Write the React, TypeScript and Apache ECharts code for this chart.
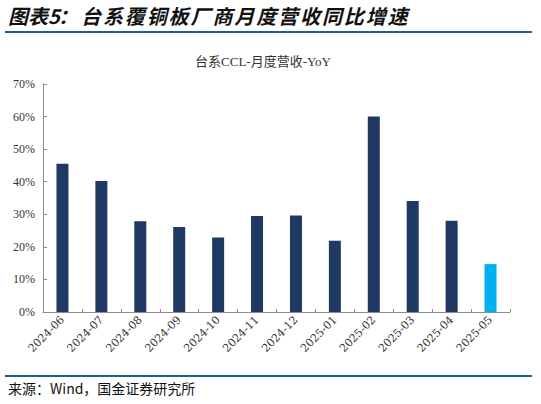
import React, { useEffect, useRef } from "react";
import * as echarts from "echarts";

const categories = [
  "2024-06", "2024-07", "2024-08", "2024-09", "2024-10", "2024-11",
  "2024-12", "2025-01", "2025-02", "2025-03", "2025-04", "2025-05",
];
const yoyValues = [0.455, 0.402, 0.279, 0.261, 0.229, 0.295, 0.296, 0.219, 0.600, 0.341, 0.280, 0.147];
const barColors = ["#1F3864", "#1F3864", "#1F3864", "#1F3864", "#1F3864", "#1F3864", "#1F3864", "#1F3864", "#1F3864", "#1F3864", "#1F3864", "#00B0F0"];
const headlinePrefix = "图表5";
const headlineColon = "：";
const headlineBody = "台系覆铜板厂商月度营收同比增速";
const chartTitle = "台系CCL-月度营收-YoY";
const sourceNote = "来源：Wind，国金证券研究所";

export default function App() {
  const ref = useRef<HTMLDivElement>(null);
  useEffect(() => {
    if (!ref.current) return;
    const chart = echarts.init(ref.current, undefined, { renderer: "svg" });
    const headStyle = {
      fontSize: 20,
      fontWeight: "bold",
      fontStyle: "italic",
      fill: "#111111",
      fontFamily: "'Noto Sans CJK SC', sans-serif",
      verticalAlign: "middle",
    };
    const bodyChars = Array.from(headlineBody).map((ch, i) => ({
      type: "text",
      x: 81 + i * 21.9,
      y: 15,
      style: { ...headStyle, text: ch },
    }));
    chart.setOption({
      animation: false,
      backgroundColor: "#ffffff",
      title: {
        text: chartTitle,
        left: 258,
        top: 50,
        textAlign: "center",
        textStyle: {
          fontSize: 13,
          fontWeight: "normal",
          color: "#333333",
          fontFamily: "'Liberation Serif', 'Noto Sans CJK SC', serif",
        },
      },
      grid: { left: 43, right: 31, top: 84, bottom: 92, containLabel: false },
      xAxis: {
        type: "category",
        data: categories,
        axisLine: { show: true, lineStyle: { color: "#8c8c8c", width: 1 } },
        axisTick: { show: true, inside: true, length: 3, lineStyle: { color: "#8c8c8c" } },
        axisLabel: {
          rotate: 45,
          interval: 0,
          fontSize: 11,
          color: "#333333",
          fontFamily: "'DejaVu Serif', serif",
          margin: 6,
        },
      },
      yAxis: {
        type: "value",
        min: 0,
        max: 0.7,
        interval: 0.1,
        splitLine: { show: false },
        axisLine: { show: true, lineStyle: { color: "#8c8c8c", width: 1 } },
        axisTick: { show: true, inside: true, length: 4, lineStyle: { color: "#8c8c8c" } },
        axisLabel: {
          fontSize: 12,
          color: "#333333",
          fontFamily: "'Liberation Serif', serif",
          margin: 8,
          formatter: (v: number) => `${Math.round(v * 100)}%`,
        },
      },
      series: [
        {
          type: "bar",
          barWidth: 12,
          data: yoyValues.map((v, i) => ({ value: v, itemStyle: { color: barColors[i] } })),
        },
      ],
      graphic: [
        {
          type: "text",
          x: 8,
          y: 15,
          style: { ...headStyle, text: headlinePrefix },
        },
        {
          type: "text",
          x: 58,
          y: 15,
          style: { ...headStyle, text: headlineColon },
        },
        ...bodyChars,
        {
          type: "line",
          shape: { x1: 5, y1: 32, x2: 532, y2: 32 },
          style: { stroke: "#1F5F8C", lineWidth: 2 },
        },
        {
          type: "line",
          shape: { x1: 5, y1: 376, x2: 532, y2: 376 },
          style: { stroke: "#1F5F8C", lineWidth: 2 },
        },
        {
          type: "text",
          left: 8,
          top: 381,
          style: {
            text: sourceNote,
            fontSize: 14,
            fill: "#111111",
            fontFamily: "'Noto Sans CJK SC', sans-serif",
          },
        },
      ],
    });
    return () => chart.dispose();
  }, []);
  return (
    <div
      ref={ref}
      style={{ position: "fixed", left: 0, top: 0, width: 541, height: 404, background: "#fff" }}
    />
  );
}
